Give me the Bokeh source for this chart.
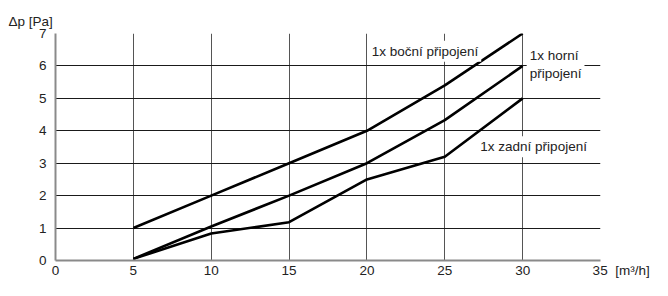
from bokeh.plotting import figure
from bokeh.models import Range1d, FixedTicker, Label
from bokeh.embed import file_html
from bokeh.resources import INLINE

# data
flow = [5, 10, 15, 20, 25, 30]
bocni = [1.0, 2.0, 3.0, 4.0, 5.4, 7.0]
horni = [0.05, 1.05, 2.0, 3.0, 4.33, 6.0]
zadni = [0.05, 0.83, 1.18, 2.5, 3.2, 5.0]
x_ticks = [0, 5, 10, 15, 20, 25, 30, 35]
y_ticks = [0, 1, 2, 3, 4, 5, 6, 7]
label_bocni = "1x boční připojení"
label_horni = "1x horní\npřipojení"
label_zadni = "1x zadní připojení"
y_title = "Δp [Pa]"
x_unit = "[m³/h]"

FONT = "Liberation Sans"
TXT = "#222222"
FS = "13.5px"
NB = "\u00a0"

p = figure(width=652, height=280, output_backend="svg", toolbar_location=None,
           x_range=Range1d(0, 35), y_range=Range1d(0, 7),
           min_border_left=55, min_border_right=52, min_border_top=33, min_border_bottom=18,
           title=y_title)
p.outline_line_color = None
p.background_fill_color = "white"
p.border_fill_color = "white"

p.title.align = "left"
p.title.offset = -47
p.title.standoff = 10
p.title.text_font = FONT
p.title.text_font_size = FS
p.title.text_font_style = "normal"
p.title.text_color = TXT

p.xaxis.ticker = FixedTicker(ticks=x_ticks)
p.yaxis.ticker = FixedTicker(ticks=y_ticks)
# unit written after the last tick label, padded so that "35" stays centred on its tick
p.xaxis.major_label_overrides = {x_ticks[-1]: NB * 11 + str(x_ticks[-1]) + NB * 2 + x_unit}
for ax in (p.xaxis, p.yaxis):
    ax.major_tick_line_color = None
    ax.minor_tick_line_color = None
    ax.major_tick_out = 0
    ax.major_tick_in = 0
    ax.axis_label = None
    ax.axis_label_standoff = 0
    ax.axis_line_color = "#8a8a8a"
    ax.axis_line_width = 2
    ax.major_label_text_font = FONT
    ax.major_label_text_font_size = FS
    ax.major_label_text_color = TXT
p.xaxis.major_label_standoff = 2
p.yaxis.major_label_standoff = 9

p.xgrid.grid_line_color = "#555555"
p.xgrid.grid_line_width = 1
p.ygrid.grid_line_color = "#1a1a1a"
p.ygrid.grid_line_width = 1

for ys in (bocni, horni, zadni):
    p.line(flow, ys, line_color="black", line_width=2.6)

common = dict(text_font=FONT, text_font_size=FS, text_color=TXT,
              background_fill_color="white")

p.add_layout(Label(x=20.11, y=6.45, text=label_bocni, text_baseline="middle",
                   padding=3, **common))
p.add_layout(Label(x=30.26, y=6.03, text=label_horni, text_baseline="middle",
                   text_line_height=1.2, padding=3, **common))
p.add_layout(Label(x=27.09, y=3.51, text=label_zadni, text_baseline="middle",
                   padding=3, **common))

open("out.html", "w").write(file_html(p, INLINE))
